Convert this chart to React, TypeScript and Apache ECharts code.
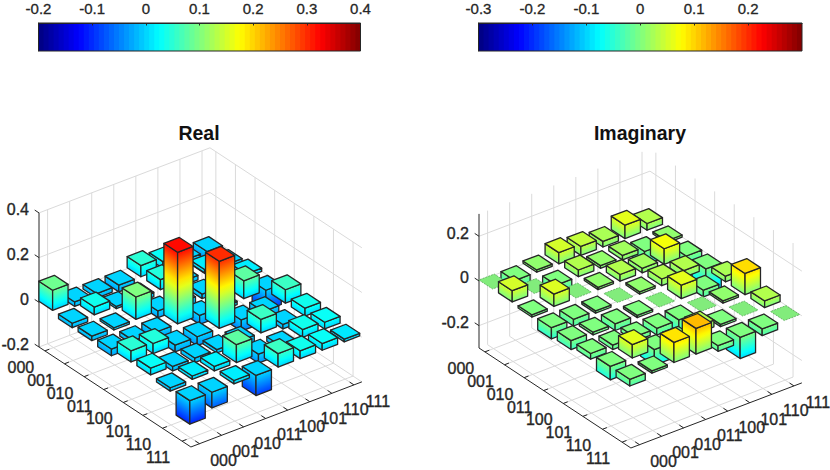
import React, { useEffect, useRef } from "react";
import * as echarts from "echarts";

const basisLabels = ["000", "001", "010", "011", "100", "101", "110", "111"];

const realRows = [
  [0.09, -0.02, -0.02, -0.03, 0.05, 0.03, -0.015, -0.105],
  [-0.02, 0.035, -0.01, -0.02, 0.045, -0.02, 0.015, -0.07],
  [-0.02, -0.01, 0.1, -0.03, -0.03, -0.02, 0.02, 0.015],
  [-0.03, -0.02, -0.03, 0.32, -0.04, -0.015, 0.08, -0.09],
  [0.05, 0.045, -0.03, -0.04, 0.3, -0.05, -0.04, 0.06],
  [0.03, -0.02, -0.02, -0.015, -0.05, 0.06, -0.02, 0.035],
  [-0.015, 0.015, 0.02, 0.08, -0.04, -0.02, 0.035, 0.03],
  [-0.105, -0.07, 0.015, -0.09, 0.06, 0.035, 0.03, 0.012],
];

const imagRows = [
  [0, -0.05, 0.01, 0.05, 0.04, 0.025, 0.06, 0.03],
  [0.05, 0, -0.055, 0.03, 0.012, 0.02, -0.06, 0.01],
  [-0.01, 0.055, 0, 0.01, 0.03, 0.02, 0.07, -0.09],
  [-0.05, -0.03, -0.01, 0, 0.01, 0.03, 0.03, -0.115],
  [-0.04, -0.012, -0.03, -0.01, 0, 0.06, -0.03, 0.025],
  [-0.025, -0.02, -0.02, -0.03, -0.06, 0, 0.01, 0.095],
  [-0.06, 0.06, -0.07, -0.03, 0.03, -0.01, 0, 0.03],
  [-0.03, -0.01, 0.09, 0.115, -0.025, -0.095, -0.03, 0],
];

const realZTicks = [-0.2, 0, 0.2, 0.4];
const imagZTicks = [-0.2, 0, 0.2];

const INK = "#262626";
const GRID = "#dadada";
const FONT = "'Liberation Sans', Arial, sans-serif";

const R_LO = -0.3, R_HI = 7.45, C_LO = -0.39, C_HI = 7.36;
const R_DX = 19.6, R_DY = 12.9, C_DX = 22.06, C_DY = -8.4, Z_PX = 223.5;
const HALF = 0.35;

function jet(t: number): string {
  const c = (v: number) => Math.round(255 * Math.max(0, Math.min(1, v)));
  const r = 1.5 - Math.abs(4 * t - 3);
  const g = 1.5 - Math.abs(4 * t - 2);
  const b = 1.5 - Math.abs(4 * t - 1);
  return `rgb(${c(r)},${c(g)},${c(b)})`;
}

type Panel = { ox: number; oy: number; zMin: number; zMax: number; cMin: number; cMax: number };

const realPanel: Panel = { ox: 39, oy: 347, zMin: -0.2, zMax: 0.4, cMin: -0.2, cMax: 0.4 };
const imagPanel: Panel = { ox: 479, oy: 348, zMin: -0.3, zMax: 0.3, cMin: -0.3, cMax: 0.3 };

function project(p: Panel, r: number, c: number, z: number): number[] {
  return [
    p.ox + (r - R_LO) * R_DX + (c - C_LO) * C_DX,
    p.oy + (r - R_LO) * R_DY + (c - C_LO) * C_DY - (z - p.zMin) * Z_PX,
  ];
}

function colorOf(p: Panel, z: number) {
  return jet((z - p.cMin) / (p.cMax - p.cMin));
}

function sideFill(p: Panel, a: number[], b: number[], hi: number, lo: number) {
  const ex = b[0] - a[0], ey = b[1] - a[1];
  const len = Math.hypot(ex, ey);
  const nx = -ey / len, ny = ex / len;
  const h = (hi - lo) * Z_PX;
  const dot = h * ny;
  const stops = [];
  const n = 10;
  for (let i = 0; i <= n; i++) {
    const f = i / n;
    stops.push({ offset: f, color: colorOf(p, hi + (lo - hi) * f) });
  }
  return new echarts.graphic.LinearGradient(a[0], a[1], a[0] + nx * dot, a[1] + ny * dot, stops, true);
}

function barSeries(p: Panel, rows: number[][]) {
  const data: number[][] = [];
  for (let r = 0; r < rows.length; r++) {
    for (let c = rows[r].length - 1; c >= 0; c--) data.push([r, c, rows[r][c]]);
  }
  return {
    type: "custom",
    coordinateSystem: "none",
    silent: true,
    z: 3,
    data,
    renderItem: (_: any, api: any) => {
      const r = api.value(0), c = api.value(1), v = api.value(2);
      const hi = Math.max(v, 0), lo = Math.min(v, 0);
      const isZero = v === 0;
      const stroke = isZero ? "#5aa85a" : INK;
      const lineWidth = isZero ? 0.8 : 1.3;
      const lineDash = isZero ? [2, 1] : undefined;
      const tl = project(p, r - HALF, c - HALF, hi);
      const tf = project(p, r + HALF, c - HALF, hi);
      const tr = project(p, r + HALF, c + HALF, hi);
      const tb = project(p, r - HALF, c + HALF, hi);
      const bl = project(p, r - HALF, c - HALF, lo);
      const bf = project(p, r + HALF, c - HALF, lo);
      const br = project(p, r + HALF, c + HALF, lo);
      const poly = (points: number[][], fill: any) => ({
        type: "polygon",
        shape: { points },
        style: { fill, stroke, lineWidth, lineDash, lineJoin: "round" },
      });
      const children: any[] = [];
      if (!isZero) {
        children.push(poly([tl, tf, bf, bl], sideFill(p, tl, tf, hi, lo)));
        children.push(poly([tf, tr, br, bf], sideFill(p, tf, tr, hi, lo)));
      }
      children.push(poly([tl, tf, tr, tb], isZero ? "#82ec7c" : colorOf(p, hi)));
      return { type: "group", children };
    },
  };
}

function frameSeries(p: Panel, zTicks: number[]) {
  return {
    type: "custom",
    coordinateSystem: "none",
    silent: true,
    z: 1,
    data: [[0]],
    renderItem: () => {
      const kids: any[] = [];
      const line = (a: number[], b: number[], stroke: string, lineWidth = 1) =>
        kids.push({
          type: "line",
          shape: { x1: a[0], y1: a[1], x2: b[0], y2: b[1] },
          style: { stroke, lineWidth },
        });
      const text = (s: string, x: number, y: number, align: string) =>
        kids.push({
          type: "text",
          style: {
            text: s, x, y, align, verticalAlign: "middle", fontSize: 16, fontFamily: FONT,
            fill: INK, stroke: INK, lineWidth: 0.35,
          },
        });
      const { zMin, zMax } = p;
      basisLabels.forEach((_, i) => {
        line(project(p, i, C_LO, zMin), project(p, i, C_HI, zMin), GRID);
        line(project(p, i, C_HI, zMin), project(p, i, C_HI, zMax), GRID);
        line(project(p, R_LO, i, zMin), project(p, R_HI, i, zMin), GRID);
        line(project(p, R_LO, i, zMin), project(p, R_LO, i, zMax), GRID);
      });
      zTicks.forEach((z) => {
        line(project(p, R_LO, C_LO, z), project(p, R_LO, C_HI, z), GRID);
        line(project(p, R_LO, C_HI, z), project(p, R_HI, C_HI, z), GRID);
      });
      line(project(p, R_LO, C_LO, zMin), project(p, R_LO, C_LO, zMax), INK);
      line(project(p, R_LO, C_LO, zMin), project(p, R_HI, C_LO, zMin), INK);
      line(project(p, R_HI, C_LO, zMin), project(p, R_HI, C_HI, zMin), INK);
      basisLabels.forEach((label, i) => {
        const a = project(p, i, C_LO, zMin);
        line(a, project(p, i, C_LO + 0.2, zMin), INK);
        text(label, a[0] - 24, a[1] + 16.5, "center");
        const b = project(p, R_HI, i, zMin);
        line(b, project(p, R_HI - 0.22, i, zMin), INK);
        text(label, b[0] + 24, b[1] + 16.5, "center");
      });
      zTicks.forEach((z) => {
        const a = project(p, R_LO, C_LO, z);
        line(a, project(p, R_LO - 0.22, C_LO, z), INK);
        text(String(z), a[0] - 10, a[1] - 3, "right");
      });
      return { type: "group", children: kids };
    },
  };
}

const COLOR_LEVELS = Array.from({ length: 64 }, (_, i) => i);

function colorbarSeries(index: number, min: number, max: number) {
  const step = (max - min) / COLOR_LEVELS.length;
  return {
    type: "custom",
    coordinateSystem: "cartesian2d",
    xAxisIndex: index,
    yAxisIndex: index,
    silent: true,
    z: 2,
    data: COLOR_LEVELS.map((i) => [min + i * step, min + (i + 1) * step]),
    renderItem: (_: any, api: any) => {
      const a = api.coord([api.value(0), 1]);
      const b = api.coord([api.value(1), 0]);
      const last = api.value(1) >= max - step / 2;
      const color = jet((api.value(0) + step / 2 - min) / (max - min));
      return {
        type: "rect",
        shape: { x: a[0], y: a[1], width: b[0] - a[0] + (last ? 0 : 1), height: b[1] - a[1] },
        style: { fill: color, stroke: null },
      };
    },
  };
}

function colorbarAxis(gridIndex: number, min: number, max: number, showMaxLabel: boolean) {
  return {
    type: "value",
    gridIndex,
    position: "top",
    min,
    max,
    interval: 0.1,
    z: 6,
    splitLine: { show: false },
    axisLine: { show: true, onZero: false, lineStyle: { color: INK, width: 1 } },
    axisTick: { show: true, inside: true, length: 2.5, lineStyle: { color: INK, width: 1 } },
    axisLabel: {
      show: true, margin: 7, fontSize: 15, fontFamily: FONT, color: INK, showMaxLabel, hideOverlap: false,
      textBorderColor: INK, textBorderWidth: 0.3,
    },
  };
}

function colorbarYAxis(gridIndex: number) {
  return {
    type: "value",
    gridIndex,
    min: 0,
    max: 1,
    z: 6,
    splitLine: { show: false },
    axisLabel: { show: false },
    axisTick: { show: false },
    axisLine: { show: true, onZero: false, lineStyle: { color: INK, width: 1 } },
  };
}

function gridBox(left: number, width: number) {
  return { left, width, top: 23, height: 28, show: true, borderColor: INK, borderWidth: 1, z: 7, backgroundColor: "transparent" };
}

function titleOf(text: string, left: number) {
  return {
    text, left, top: 123, padding: 0, textAlign: "center",
    textStyle: { fontSize: 19.5, fontWeight: "bold", fontFamily: FONT, color: "#111" },
  };
}

export default function App() {
  const ref = useRef<HTMLDivElement>(null);
  useEffect(() => {
    document.body.style.margin = "0";
    const chart = echarts.init(ref.current!, null, { renderer: "svg" });
    chart.setOption({
      animation: false,
      backgroundColor: "#fff",
      title: [titleOf("Real", 199), titleOf("Imaginary", 640)],
      grid: [gridBox(38.5, 322), gridBox(478.5, 323.5)],
      xAxis: [colorbarAxis(0, -0.2, 0.4, true), colorbarAxis(1, -0.3, 0.3, false)],
      yAxis: [colorbarYAxis(0), colorbarYAxis(1)],
      series: [
        colorbarSeries(0, -0.2, 0.4),
        colorbarSeries(1, -0.3, 0.3),
        frameSeries(realPanel, realZTicks),
        frameSeries(imagPanel, imagZTicks),
        barSeries(realPanel, realRows),
        barSeries(imagPanel, imagRows),
      ],
    });
    return () => chart.dispose();
  }, []);
  return <div ref={ref} style={{ width: 830, height: 470 }} />;
}
